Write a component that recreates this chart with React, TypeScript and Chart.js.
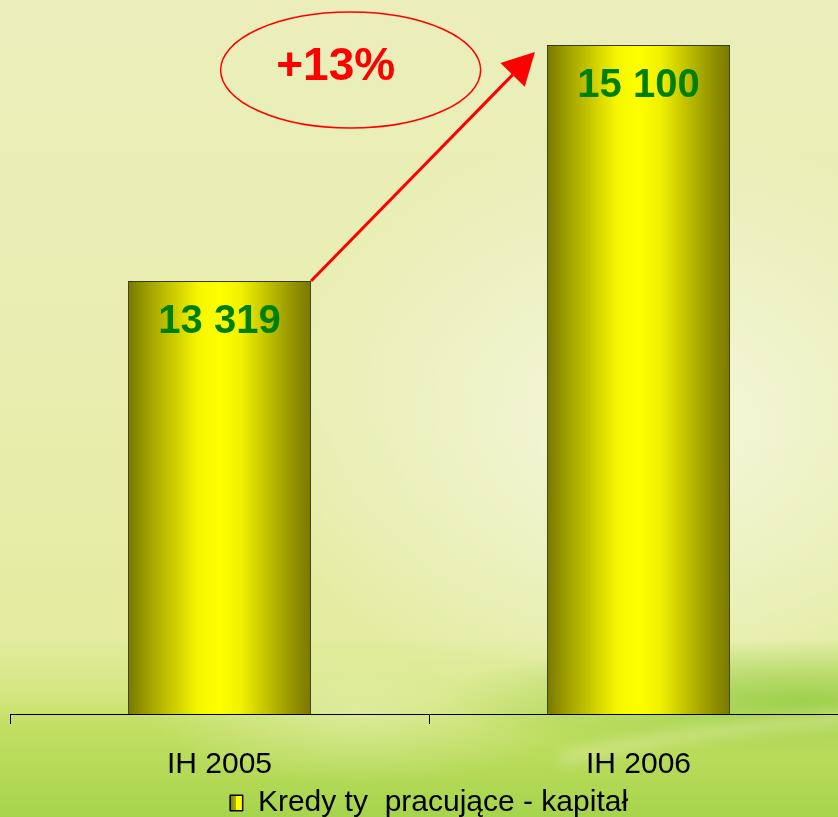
import React, { useEffect, useRef } from "react";
import { Chart, registerables } from "chart.js";

Chart.register(...registerables);

const categories = ["IH 2005", "IH 2006"];
const values = [13319, 15100];
const seriesName = "Kredy ty  pracujące - kapitał";
const yMin = 10050;
const yMax = 15440;

const FONT = '"Liberation Sans", Arial, sans-serif';
const BAR_FRACTION = 0.437;

function fmt(v: number): string {
  return String(v).replace(/\B(?=(\d{3})+(?!\d))/g, " ");
}

function barGradient(c: CanvasRenderingContext2D, x0: number, x1: number) {
  const g = c.createLinearGradient(x0, 0, x1, 0);
  g.addColorStop(0, "#787800");
  g.addColorStop(0.12, "#a3a300");
  g.addColorStop(0.38, "#f5f500");
  g.addColorStop(0.5, "#ffff00");
  g.addColorStop(0.62, "#f0f000");
  g.addColorStop(0.88, "#9a9a00");
  g.addColorStop(1, "#787800");
  return g;
}

const backgroundPlugin = {
  id: "bgPlugin",
  beforeDraw(chart: any) {
    const c: CanvasRenderingContext2D = chart.ctx;
    const W = chart.width;
    const H = chart.height;
    c.save();
    const lg = c.createLinearGradient(0, 0, 0, 817);
    lg.addColorStop(0, "#ebeebb");
    lg.addColorStop(0.45, "#e8eeb0");
    lg.addColorStop(0.78, "#e3eca0");
    lg.addColorStop(0.85, "#d4e680");
    lg.addColorStop(0.89, "#c2df62");
    lg.addColorStop(1, "#a6d44c");
    c.fillStyle = lg;
    c.fillRect(0, 0, W, H);

    // pale highlight centre-right
    c.save();
    c.translate(650, 430);
    c.scale(1.3, 1);
    let rg = c.createRadialGradient(0, 0, 0, 0, 0, 300);
    rg.addColorStop(0, "rgba(248,249,232,0.85)");
    rg.addColorStop(0.5, "rgba(245,247,222,0.5)");
    rg.addColorStop(1, "rgba(245,247,222,0)");
    c.fillStyle = rg;
    c.fillRect(-700, -500, 1400, 1000);
    c.restore();

    // pale area bottom-centre
    c.save();
    c.translate(360, 715);
    c.scale(1.5, 0.5);
    rg = c.createRadialGradient(0, 0, 0, 0, 0, 140);
    rg.addColorStop(0, "rgba(240,244,200,0.5)");
    rg.addColorStop(1, "rgba(240,244,200,0)");
    c.fillStyle = rg;
    c.fillRect(-400, -400, 800, 800);
    c.restore();

    // green swoosh bottom-right
    c.save();
    c.translate(800, 700);
    c.scale(3, 0.5);
    rg = c.createRadialGradient(0, 0, 0, 0, 0, 120);
    rg.addColorStop(0, "rgba(150,205,70,0.85)");
    rg.addColorStop(1, "rgba(150,205,70,0)");
    c.fillStyle = rg;
    c.fillRect(-400, -400, 800, 800);
    c.restore();

    // pale streak
    c.save();
    c.filter = "blur(7px)";
    c.strokeStyle = "rgba(232,238,180,0.55)";
    c.lineWidth = 10;
    c.beginPath();
    c.moveTo(560, 760);
    c.quadraticCurveTo(680, 730, 860, 718);
    c.stroke();
    c.restore();

    c.restore();
  },
};

const labelsPlugin = {
  id: "labelsPlugin",
  afterDatasetsDraw(chart: any) {
    const c: CanvasRenderingContext2D = chart.ctx;
    const meta = chart.getDatasetMeta(0);
    c.save();
    c.font = `bold 40px ${FONT}`;
    c.fillStyle = "#008000";
    c.textAlign = "center";
    c.textBaseline = "middle";
    meta.data.forEach((el: any, i: number) => {
      c.fillText(fmt(values[i]), el.x, el.y + 41);
    });
    c.restore();
  },
  afterDraw(chart: any) {
    const c: CanvasRenderingContext2D = chart.ctx;
    const meta = chart.getDatasetMeta(0);
    const b1 = meta.data[0];
    const b2 = meta.data[1];
    if (!b1 || !b2) return;
    c.save();
    // arrow
    const sx = b1.x + b1.width / 2;
    const sy = b1.y;
    const tx = b2.x - b2.width / 2 - 12;
    const ty = b2.y + 7;
    const ang = Math.atan2(ty - sy, tx - sx);
    const headLen = 32;
    const headHalf = 17;
    const bx = tx - headLen * Math.cos(ang);
    const by = ty - headLen * Math.sin(ang);
    c.strokeStyle = "#ff0000";
    c.fillStyle = "#ff0000";
    c.lineWidth = 3;
    c.beginPath();
    c.moveTo(sx, sy);
    c.lineTo(bx, by);
    c.stroke();
    c.beginPath();
    c.moveTo(tx, ty);
    c.lineTo(bx + headHalf * Math.sin(ang), by - headHalf * Math.cos(ang));
    c.lineTo(bx - headHalf * Math.sin(ang), by + headHalf * Math.cos(ang));
    c.closePath();
    c.fill();

    // ellipse with percentage
    const ex = b1.x + (b2.x - b1.x) * 0.313;
    const ey = b2.y + 25;
    c.lineWidth = 1.5;
    c.beginPath();
    c.ellipse(ex, ey, 130, 58, 0, 0, Math.PI * 2);
    c.stroke();
    const pct = Math.round((values[1] / values[0] - 1) * 100);
    c.font = `bold 46px ${FONT}`;
    c.textAlign = "center";
    c.textBaseline = "middle";
    c.fillText(`+${pct}%`, ex - 15, ey - 3);
    c.restore();

    // legend swatch shading (olive-to-yellow like the bars)
    const hb = chart.legend?.legendHitBoxes?.[0];
    if (hb) {
      const bw = 13;
      const bh = 16;
      const x0 = hb.left;
      const y0 = hb.top + Math.max((hb.height - bh) / 2, 0);
      c.save();
      const g = c.createLinearGradient(x0, 0, x0 + bw, 0);
      g.addColorStop(0, "#808000");
      g.addColorStop(0.45, "#b0b000");
      g.addColorStop(0.5, "#ffff00");
      g.addColorStop(1, "#ffff00");
      c.fillStyle = g;
      c.fillRect(x0, y0, bw, bh);
      c.strokeStyle = "#000";
      c.lineWidth = 1;
      c.strokeRect(x0 + 0.5, y0 + 0.5, bw - 1, bh - 1);
      c.restore();
    }
  },
};

export default function App() {
  const ref = useRef<HTMLCanvasElement | null>(null);

  useEffect(() => {
    if (!ref.current) return;
    const chart = new Chart(ref.current, {
      type: "bar",
      data: {
        labels: categories,
        datasets: [
          {
            label: seriesName,
            data: values,
            backgroundColor: (ctx: any) => {
              const ch = ctx.chart;
              const xs = ch.scales?.x;
              if (!xs || ctx.dataIndex === undefined || !ch.chartArea) return "#ffff00";
              const cx = xs.getPixelForValue(ctx.dataIndex);
              const w = (xs.width / categories.length) * BAR_FRACTION;
              return barGradient(ch.ctx, cx - w / 2, cx + w / 2);
            },
            borderColor: "#3a3a10",
            borderWidth: 1,
            borderSkipped: false,
            categoryPercentage: 1,
            barPercentage: BAR_FRACTION,
          } as any,
        ],
      },
      options: {
        animation: false,
        responsive: false,
        maintainAspectRatio: false,
        layout: { padding: { left: 10, right: 0, top: 0, bottom: 0 } },
        scales: {
          x: {
            offset: true,
            border: { display: true, color: "#000", width: 1 },
            grid: {
              display: true,
              drawOnChartArea: false,
              drawTicks: true,
              tickLength: 10,
              color: "#000",
              offset: true,
            },
            ticks: {
              color: "#000",
              font: { family: FONT, size: 30, lineHeight: 1 },
              padding: 26,
            },
            afterFit: (axis: any) => {
              axis.height = 67;
            },
          },
          y: {
            display: false,
            min: yMin,
            max: yMax,
          },
        },
        plugins: {
          legend: {
            display: true,
            position: "bottom",
            labels: {
              color: "#000",
              font: { family: FONT, size: 30, lineHeight: 1 },
              boxWidth: 13,
              boxHeight: 16,
              padding: 7,
              generateLabels: () => [
                {
                  text: seriesName,
                  fillStyle: "#ffff00",
                  strokeStyle: "#000",
                  lineWidth: 1,
                  hidden: false,
                  datasetIndex: 0,
                } as any,
              ],
            },
          },
          tooltip: { enabled: false },
        },
      },
      plugins: [backgroundPlugin, labelsPlugin],
    });
    return () => chart.destroy();
  }, []);

  return (
    <div
      style={{
        position: "fixed",
        left: 0,
        top: 0,
        width: 838,
        height: 817,
        overflow: "hidden",
      }}
    >
      <canvas ref={ref} width={848} height={828} style={{ display: "block", width: 848, height: 828 }} />
    </div>
  );
}
